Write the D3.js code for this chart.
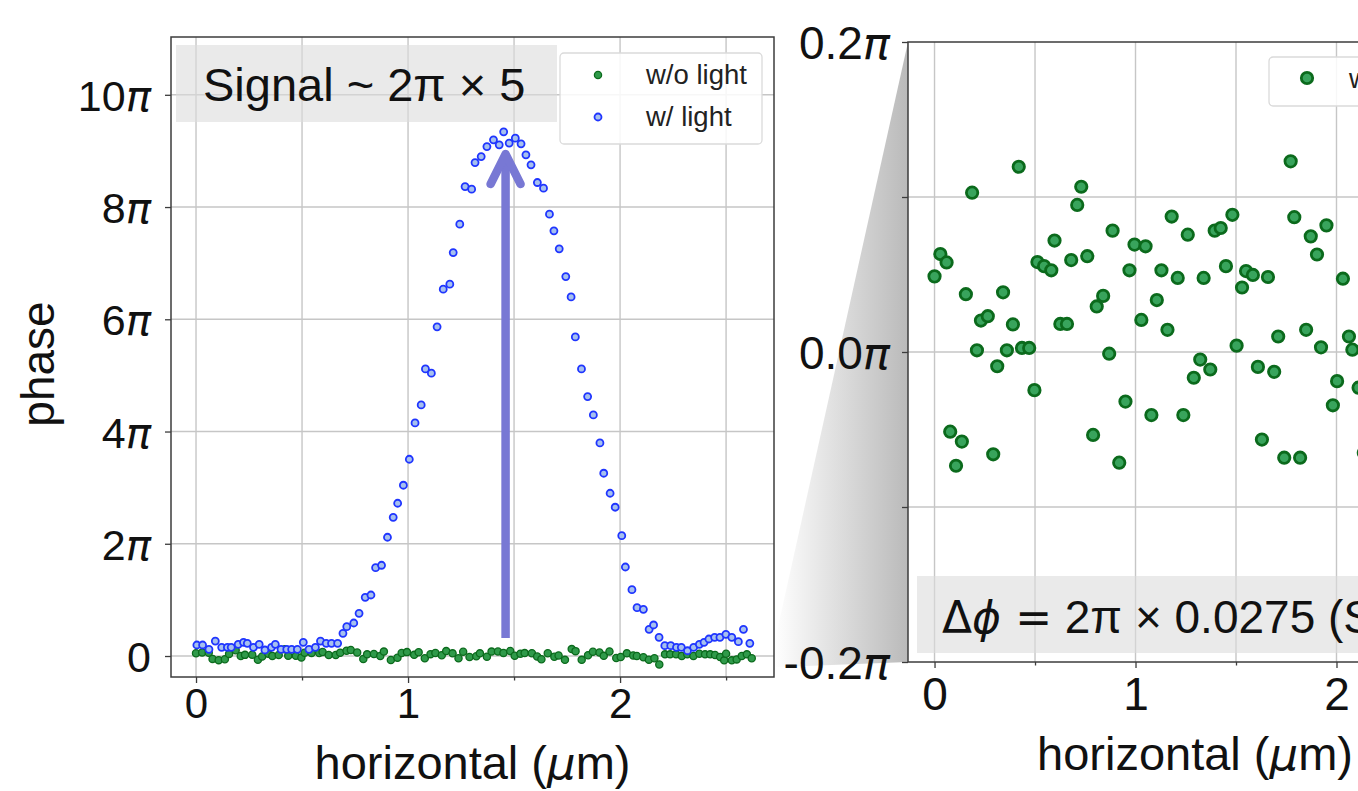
<!DOCTYPE html>
<html><head><meta charset="utf-8">
<script src="https://cdn.jsdelivr.net/npm/d3@7"></script>
<style>body{margin:0;background:#fff;overflow:hidden} svg{display:block}</style>
</head><body>
<svg id="c" width="1358" height="791"></svg>
<script>
// ---------------- data (phase in units of π, horizontal in µm) ----------------
const blueX = [0.004,0.031,0.061,0.091,0.121,0.148,0.166,0.199,0.224,0.242,
0.271,0.298,0.325,0.356,0.374,0.401,0.428,0.451,0.478,0.506,
0.533,0.563,0.587,0.614,0.639,0.668,0.693,0.711,0.744,0.769,
0.798,0.825,0.847,0.875,0.903,0.930,0.951,0.978,1.006,1.033,
1.062,1.082,1.110,1.137,1.166,1.197,1.213,1.244,1.269,1.300,
1.316,1.345,1.372,1.403,1.430,1.451,1.477,1.506,1.533,1.556,
1.580,1.610,1.639,1.667,1.688,1.713,1.744,1.769,1.789,1.818,
1.847,1.874,1.905,1.923,1.953,1.977,2.008,2.025,2.056,2.080,
2.110,2.137,2.158,2.184,2.211,2.239,2.266,2.289,2.318,2.347,
2.374,2.396,2.419,2.446,2.471,2.499,2.527,2.558,2.582,2.612];
const blueY = [0.196,0.196,0.119,0.267,0.155,0.155,0.155,0.209,0.244,0.226,
0.155,0.209,0.107,0.155,0.209,0.119,0.119,0.119,0.119,0.244,
0.119,0.155,0.267,0.226,0.226,0.226,0.405,0.522,0.588,0.761,
1.046,1.087,1.574,1.617,2.116,2.472,2.722,3.043,3.506,4.153,
4.474,5.116,5.039,5.865,6.537,6.626,7.189,7.695,8.365,8.319,
8.793,8.900,9.078,9.198,9.109,9.340,9.139,9.228,9.127,8.930,
8.752,8.437,8.337,7.873,7.576,7.255,6.761,6.399,5.686,5.116,
4.622,4.296,3.797,3.257,2.900,2.651,2.144,1.586,1.182,0.861,
0.832,0.476,0.553,0.333,0.184,0.184,0.155,0.155,0.094,0.155,
0.209,0.244,0.303,0.333,0.333,0.387,0.333,0.255,0.476,0.226];
const greenX = [0.000,0.029,0.060,0.078,0.107,0.136,0.156,0.187,0.211,0.231,
0.265,0.292,0.312,0.341,0.360,0.390,0.419,0.435,0.471,0.497,
0.512,0.545,0.581,0.597,0.626,0.659,0.680,0.710,0.730,0.760,
0.789,0.807,0.839,0.869,0.886,0.919,0.950,0.970,0.995,1.029,
1.050,1.079,1.106,1.129,1.159,1.180,1.210,1.238,1.260,1.290,
1.322,1.339,1.372,1.394,1.424,1.450,1.482,1.503,1.530,1.550,
1.584,1.609,1.629,1.659,1.690,1.710,1.740,1.772,1.790,1.819,
1.849,1.872,1.903,1.923,1.950,1.982,2.003,2.032,2.062,2.079,
2.110,2.136,2.162,2.185,2.212,2.236,2.264,2.291,2.317,2.346,
2.374,2.401,2.425,2.448,2.472,2.491,2.500,2.527,2.550,2.574,
2.598,2.621];
const greenY = [0.0488,0.0632,0.0578,-0.0514,-0.0734,-0.0578,0.0373,0.1028,0.0011,0.0203,
0.0231,-0.0660,-0.0092,0.0385,0.0011,0.0178,0.1195,0.0026,0.0026,-0.0246,
0.0580,0.0554,0.0527,0.0719,0.0181,0.0181,0.0593,0.0949,0.1066,0.0618,
-0.0535,0.0294,0.0362,-0.0011,0.0783,-0.0714,-0.0320,0.0527,0.0693,0.0207,
0.0682,-0.0407,0.0335,0.0527,0.0143,0.0874,0.0478,-0.0407,0.0757,-0.0166,
-0.0049,0.0478,-0.0113,0.0783,0.0800,0.0554,0.0885,0.0041,0.0416,0.0522,
0.0497,-0.0096,-0.0565,0.0484,-0.0128,0.0100,-0.0682,0.1230,0.0870,-0.0682,
0.0143,0.0746,0.0629,0.0030,0.0817,-0.0344,-0.0188,0.0473,0.0100,0.0015,
-0.023,-0.065,-0.040,-0.150,0.030,0.030,0.030,0.000,0.030,0.000,
0.040,0.030,0.030,0.018,-0.018,-0.077,0.040,-0.077,-0.060,0.000,
0.030,-0.040];

const xTicks = [0, 1, 2];
const xTickLabels = ["0", "1", "2"];
const xMinorTicks = [0.5, 1.5, 2.5];
const leftYTicks = [0, 2, 4, 6, 8, 10];
const leftYTickLabels = ["0", "2π", "4π", "6π", "8π", "10π"];
const rightYTicks = [-0.2, 0, 0.2];
const rightYTickLabels = ["-0.2π", "0.0π", "0.2π"];
const rightYMinorTicks = [-0.1, 0.1];
const seriesNames = ["w/o light", "w/ light"];
const arrowX = 1.46, arrowFrom = 0.32, arrowTo = 8.98;

// ---------------- setup ----------------
const FONT = '"Liberation Sans", Arial, Helvetica, sans-serif';
const MATH = '"DejaVu Sans", sans-serif';
const svg = d3.select('#c');
const GRID = '#c6c6c6', FRAME = '#3c3c3c';
const GREEN_FILL = '#2f9a4a', GREEN_EDGE = '#0b6a1c';
const BLUE_FILL = '#a6c0ee', BLUE_EDGE = '#1f35ff';

const L = {x0: 171, x1: 774, y0: 37, y1: 677};
const R = {x0: 908, x1: 1482, y0: 42, y1: 662};
const xL = d3.scaleLinear().domain([-0.118, 2.726]).range([L.x0, L.x1]);
const yL = d3.scaleLinear().domain([-0.374, 11.03]).range([L.y1, L.y0]);
const xR = d3.scaleLinear().domain([-0.132, 2.724]).range([R.x0, R.x1]);
const yR = d3.scaleLinear().domain([-0.2, 0.2]).range([R.y1, R.y0]);

function mathLabel(text, str, size) {
  text.text(null);
  const parts = str.split(/(π)/).filter(s => s.length);
  parts.forEach(p => {
    const t = text.append('tspan').text(p);
    if (p === 'π') t.attr('font-family', MATH).attr('font-style', 'italic').attr('font-size', size * 0.98);
  });
}

// ---------------- zoom connector ----------------
const defs = svg.append('defs');
const grad = defs.append('linearGradient').attr('id', 'zg')
  .attr('gradientUnits', 'userSpaceOnUse')
  .attr('x1', L.x1).attr('x2', R.x0).attr('y1', 0).attr('y2', 0);
grad.append('stop').attr('offset', 0).attr('stop-color', '#ffffff');
grad.append('stop').attr('offset', 1).attr('stop-color', '#bababa');
svg.append('path')
  .attr('d', `M${L.x1},${yL(0.2)} L${R.x0},${yR(0.2)} L${R.x0},${yR(-0.2)} L${L.x1},${yL(-0.2)} Z`)
  .attr('fill', 'url(#zg)');

// ---------------- left panel ----------------
const gL = svg.append('g');
gL.selectAll('.gx').data([0, 0.5, 1, 1.5, 2, 2.5]).join('line')
  .attr('x1', d => xL(d)).attr('x2', d => xL(d)).attr('y1', L.y0).attr('y2', L.y1)
  .attr('stroke', GRID).attr('stroke-width', 1.4);
gL.selectAll('.gy').data(leftYTicks).join('line')
  .attr('y1', d => yL(d)).attr('y2', d => yL(d)).attr('x1', L.x0).attr('x2', L.x1)
  .attr('stroke', GRID).attr('stroke-width', 1.4);

// data
gL.selectAll('.g').data(d3.range(greenX.length)).join('circle')
  .attr('cx', i => xL(greenX[i])).attr('cy', i => yL(greenY[i])).attr('r', 3.6)
  .attr('fill', GREEN_FILL).attr('stroke', GREEN_EDGE).attr('stroke-width', 1.3);
gL.selectAll('.b').data(d3.range(blueX.length)).join('circle')
  .attr('cx', i => xL(blueX[i])).attr('cy', i => yL(blueY[i])).attr('r', 3.5)
  .attr('fill', BLUE_FILL).attr('stroke', BLUE_EDGE).attr('stroke-width', 1.8);

// arrow
const ax = xL(arrowX), aTop = yL(arrowTo), aBot = yL(arrowFrom);
gL.append('line').attr('x1', ax).attr('x2', ax).attr('y1', aBot).attr('y2', aTop + 3)
  .attr('stroke', '#7878d4').attr('stroke-width', 8.5);
gL.append('path').attr('d', `M${ax - 15},${aTop + 32} L${ax},${aTop + 2} L${ax + 15},${aTop + 32}`)
  .attr('fill', 'none').attr('stroke', '#7878d4').attr('stroke-width', 8.5)
  .attr('stroke-linejoin', 'round').attr('stroke-linecap', 'round');

// axes
function styleAxis(g) {
  g.select('.domain').remove();
  g.selectAll('.tick line').attr('stroke', FRAME).attr('stroke-width', 1.3);
}
const axLB = gL.append('g').attr('transform', `translate(0,${L.y1})`)
  .call(d3.axisBottom(xL).tickValues(xTicks).tickSize(6).tickFormat((d, i) => xTickLabels[i]));
styleAxis(axLB);
axLB.selectAll('.tick text').attr('y', 41).attr('dy', 0).attr('font-family', FONT).attr('font-size', 42).attr('fill', '#111');
const axLBm = gL.append('g').attr('transform', `translate(0,${L.y1})`)
  .call(d3.axisBottom(xL).tickValues(xMinorTicks).tickSize(3.5).tickFormat(''));
styleAxis(axLBm);
const axLL = gL.append('g').attr('transform', `translate(${L.x0},0)`)
  .call(d3.axisLeft(yL).tickValues(leftYTicks).tickSize(6).tickFormat((d, i) => leftYTickLabels[i]));
styleAxis(axLL);
axLL.selectAll('.tick text').attr('x', -20).attr('dy', '0.36em').attr('font-family', FONT)
  .attr('font-size', 43).attr('fill', '#111').each(function(d, i) { mathLabel(d3.select(this), leftYTickLabels[i], 43); });
gL.append('rect').attr('x', L.x0).attr('y', L.y0).attr('width', L.x1 - L.x0).attr('height', L.y1 - L.y0)
  .attr('fill', 'none').attr('stroke', FRAME).attr('stroke-width', 1.5);

// labels
const xlabL = gL.append('text').attr('x', (L.x0 + L.x1) / 2).attr('y', 779).attr('text-anchor', 'middle')
  .attr('font-family', FONT).attr('font-size', 47).attr('fill', '#111');
xlabL.append('tspan').text('horizontal (');
xlabL.append('tspan').attr('font-family', MATH).attr('font-style', 'italic').attr('font-size', 45).text('μ');
xlabL.append('tspan').text('m)');
gL.append('text').attr('transform', `translate(54,${(L.y0 + L.y1) / 2 + 7}) rotate(-90)`)
  .attr('text-anchor', 'middle').attr('font-family', FONT).attr('font-size', 46).attr('fill', '#111').text('phase');

// signal box
gL.append('rect').attr('x', L.x0 + 5).attr('y', L.y0 + 8).attr('width', 381).attr('height', 77)
  .attr('fill', '#dcdcdc').attr('fill-opacity', 0.6);
gL.append('text').attr('x', L.x0 + 32).attr('y', L.y0 + 64).attr('font-family', FONT).attr('font-size', 47)
  .attr('fill', '#111').text('Signal ~ 2π × 5');

// legend
const lg = gL.append('g').attr('transform', `translate(560,53)`);
lg.append('rect').attr('width', 202).attr('height', 91).attr('rx', 4)
  .attr('fill', '#fff').attr('fill-opacity', 0.85).attr('stroke', '#dadada').attr('stroke-width', 1.3);
lg.append('circle').attr('cx', 38).attr('cy', 22).attr('r', 3.6)
  .attr('fill', GREEN_FILL).attr('stroke', GREEN_EDGE).attr('stroke-width', 1.3);
lg.append('circle').attr('cx', 38).attr('cy', 64).attr('r', 3.5)
  .attr('fill', BLUE_FILL).attr('stroke', BLUE_EDGE).attr('stroke-width', 1.8);
lg.selectAll('.lt').data(seriesNames).join('text')
  .attr('x', 86).attr('y', (d, i) => 31 + i * 42).attr('font-family', FONT).attr('font-size', 27.5)
  .attr('fill', '#222').text(d => d);

// ---------------- right panel ----------------
const gR = svg.append('g');
gR.selectAll('.gx').data([0, 0.5, 1, 1.5, 2, 2.5]).join('line')
  .attr('x1', d => xR(d)).attr('x2', d => xR(d)).attr('y1', R.y0).attr('y2', R.y1)
  .attr('stroke', GRID).attr('stroke-width', 1.4);
gR.selectAll('.gy').data([-0.1, 0, 0.1]).join('line')
  .attr('y1', d => yR(d)).attr('y2', d => yR(d)).attr('x1', R.x0).attr('x2', R.x1)
  .attr('stroke', GRID).attr('stroke-width', 1.4);

// text box (behind points)
gR.append('rect').attr('x', R.x0 + 9).attr('y', 576).attr('width', 560).attr('height', 77)
  .attr('fill', '#dcdcdc').attr('fill-opacity', 0.6);
const dt = gR.append('text').attr('x', R.x0 + 34).attr('y', 633).attr('font-family', FONT)
  .attr('font-size', 46).attr('fill', '#111');
dt.append('tspan').attr('font-family', MATH).attr('font-size', 44).text('Δ');
dt.append('tspan').attr('font-family', MATH).attr('font-style', 'italic').attr('font-size', 44).text('ϕ');
dt.append('tspan').attr('font-family', MATH).attr('font-size', 44).text(' =');
dt.append('tspan').text(' 2π × 0.0275 (Std)');

gR.selectAll('.g').data(d3.range(greenX.length)).join('circle')
  .attr('cx', i => xR(greenX[i])).attr('cy', i => yR(greenY[i])).attr('r', 5.7)
  .attr('fill', '#38a45c').attr('stroke', '#0b6a1c').attr('stroke-width', 2.8);

const axRB = gR.append('g').attr('transform', `translate(0,${R.y1})`)
  .call(d3.axisBottom(xR).tickValues(xTicks).tickSize(6).tickFormat((d, i) => xTickLabels[i]));
styleAxis(axRB);
axRB.selectAll('.tick text').attr('y', 48).attr('dy', 0).attr('font-family', FONT).attr('font-size', 46).attr('fill', '#111');
const axRBm = gR.append('g').attr('transform', `translate(0,${R.y1})`)
  .call(d3.axisBottom(xR).tickValues(xMinorTicks).tickSize(3.5).tickFormat(''));
styleAxis(axRBm);
const axRL = gR.append('g').attr('transform', `translate(${R.x0},0)`)
  .call(d3.axisLeft(yR).tickValues(rightYTicks).tickSize(6).tickFormat((d, i) => rightYTickLabels[i]));
styleAxis(axRL);
axRL.selectAll('.tick text').attr('x', -18).attr('dy', '0.36em').attr('font-family', FONT)
  .attr('font-size', 46).attr('fill', '#111').each(function(d, i) { mathLabel(d3.select(this), rightYTickLabels[i], 46); });
const axRLm = gR.append('g').attr('transform', `translate(${R.x0},0)`)
  .call(d3.axisLeft(yR).tickValues(rightYMinorTicks).tickSize(6).tickFormat(''));
styleAxis(axRLm);
gR.append('rect').attr('x', R.x0).attr('y', R.y0).attr('width', R.x1 - R.x0).attr('height', R.y1 - R.y0)
  .attr('fill', 'none').attr('stroke', FRAME).attr('stroke-width', 1.5);

const xlabR = gR.append('text').attr('x', (R.x0 + R.x1) / 2).attr('y', 770).attr('text-anchor', 'middle')
  .attr('font-family', FONT).attr('font-size', 47).attr('fill', '#111');
xlabR.append('tspan').text('horizontal (');
xlabR.append('tspan').attr('font-family', MATH).attr('font-style', 'italic').attr('font-size', 45).text('μ');
xlabR.append('tspan').text('m)');

// right legend
const lgR = gR.append('g').attr('transform', `translate(1269,57)`);
lgR.append('rect').attr('width', 200).attr('height', 49).attr('rx', 4)
  .attr('fill', '#fff').attr('fill-opacity', 0.85).attr('stroke', '#dadada').attr('stroke-width', 1.3);
lgR.append('circle').attr('cx', 38).attr('cy', 21).attr('r', 5.7)
  .attr('fill', '#38a45c').attr('stroke', '#0b6a1c').attr('stroke-width', 2.8);
lgR.append('text').attr('x', 80).attr('y', 31).attr('font-family', FONT).attr('font-size', 27.5)
  .attr('fill', '#222').text(seriesNames[0]);
</script>
</body></html>
